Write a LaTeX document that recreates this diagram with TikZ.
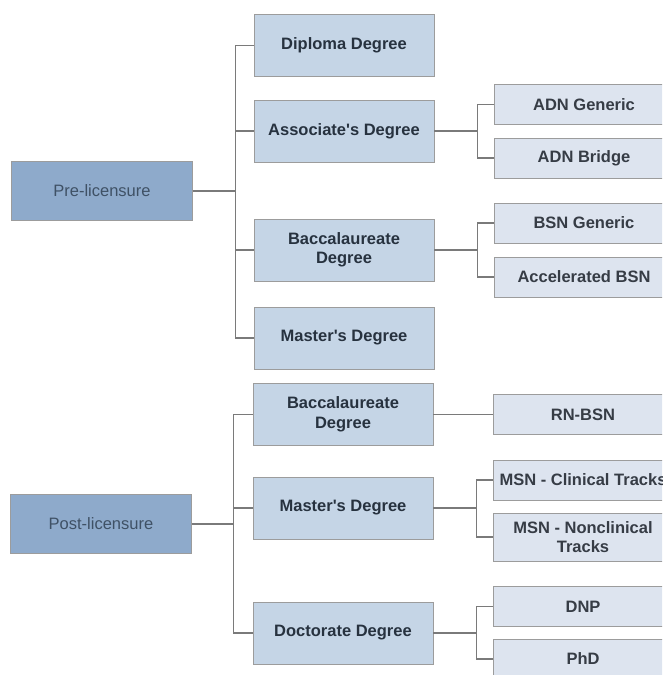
\documentclass[tikz,border=0pt]{standalone}
\usepackage{fontspec}
\setmainfont{Liberation Sans}
\usetikzlibrary{calc, positioning}

\definecolor{topfill}{HTML}{8EAACB}
\definecolor{toptext}{HTML}{3F5165}
\definecolor{midfill}{HTML}{C5D5E6}
\definecolor{midtext}{HTML}{27323F}
\definecolor{lowfill}{HTML}{DDE4EF}
\definecolor{lowtext}{HTML}{363C45}
\definecolor{boxline}{HTML}{9C9C9C}
\definecolor{wire}{HTML}{7A7A7A}

\begin{document}
\begin{tikzpicture}[
    x=1pt, y=-1pt,
    lvlone/.style={
        draw=boxline,
        rectangle,
        fill=topfill,
        text=toptext,
        minimum width=181pt,
        minimum height=59pt,
        font=\fontsize{16.5}{19.5}\selectfont
    },
    lvltwo/.style={
        draw=boxline,
        rectangle,
        fill=midfill,
        text=midtext,
        minimum width=180pt,
        minimum height=62pt,
        inner sep=2pt,
        align=center,
        font=\fontsize{16.5}{19.5}\selectfont\bfseries
    },
    lvlthree/.style={
        draw=boxline,
        rectangle,
        fill=lowfill,
        text=lowtext,
        minimum width=180pt,
        minimum height=40pt,
        inner sep=2pt,
        align=center,
        font=\fontsize{16.5}{19.5}\selectfont\bfseries
    },
    conn/.style={
        draw=wire,
        line width=1.1pt
    }
]

    \clip (0,0) rectangle (662,675);
    \fill [white] (0,0) rectangle (662,675);

    % Top level
    \node [lvlone] (pre) at (102,191) {Pre-licensure};
    \node [lvlone] (post) at (101,524) {Post-licensure};

    % Degrees, pre-licensure
    \node [lvltwo] (dip) at (344,45.5) {Diploma Degree};
    \node [lvltwo] (asc) at (344,131) {Associate\textquotesingle s Degree};
    \node [lvltwo] (bac) at (344,250) {Baccalaureate\\Degree};
    \node [lvltwo] (mas) at (344,338) {Master\textquotesingle s Degree};

    % Degrees, post-licensure
    \node [lvltwo] (pbac) at (343,414.5) {Baccalaureate\\Degree};
    \node [lvltwo] (pmas) at (343,508) {Master\textquotesingle s Degree};
    \node [lvltwo] (doc) at (343,633) {Doctorate Degree};

    % Programs
    \node [lvlthree] (adng) at (584,104.5) {ADN Generic};
    \node [lvlthree] (adnb) at (584,158) {ADN Bridge};
    \node [lvlthree] (bsng) at (584,223) {BSN Generic};
    \node [lvlthree] (bsna) at (584,277) {Accelerated BSN};
    \node [lvlthree] (rnbsn) at (583,414.5) {RN-BSN};
    \node [lvlthree] (msnc) at (583,480) {MSN - Clinical Tracks};
    \node [lvlthree, minimum height=48pt] (msnn) at (583,537) {MSN - Nonclinical\\Tracks};
    \node [lvlthree] (dnp) at (583,606.5) {DNP};
    \node [lvlthree] (phd) at (583,659) {PhD};

    % Buses
    \coordinate (prebus) at ($(pre.east)+(43,0)$);
    \coordinate (postbus) at ($(post.east)+(42,0)$);
    \coordinate (ascbus) at ($(asc.east)+(43,0)$);
    \coordinate (bacbus) at ($(bac.east)+(43,0)$);
    \coordinate (pmasbus) at ($(pmas.east)+(43,0)$);
    \coordinate (docbus) at ($(doc.east)+(43,0)$);

    \draw [conn] (pre.east) -- (prebus);
    \foreach \n in {dip,asc,bac,mas} {
        \draw [conn] (prebus) |- (\n.west);
    }

    \draw [conn] (post.east) -- (postbus);
    \foreach \n in {pbac,pmas,doc} {
        \draw [conn] (postbus) |- (\n.west);
    }

    \draw [conn] (asc.east) -- (ascbus);
    \draw [conn] (ascbus) |- (adng.west);
    \draw [conn] (ascbus) |- (adnb.west);

    \draw [conn] (bac.east) -- (bacbus);
    \draw [conn] (bacbus) |- (bsng.west);
    \draw [conn] (bacbus) |- (bsna.west);

    \draw [conn] (pbac.east) -- (rnbsn.west);

    \draw [conn] (pmas.east) -- (pmasbus);
    \draw [conn] (pmasbus) |- (msnc.west);
    \draw [conn] (pmasbus) |- (msnn.west);

    \draw [conn] (doc.east) -- (docbus);
    \draw [conn] (docbus) |- (dnp.west);
    \draw [conn] (docbus) |- (phd.west);

\end{tikzpicture}
\end{document}
